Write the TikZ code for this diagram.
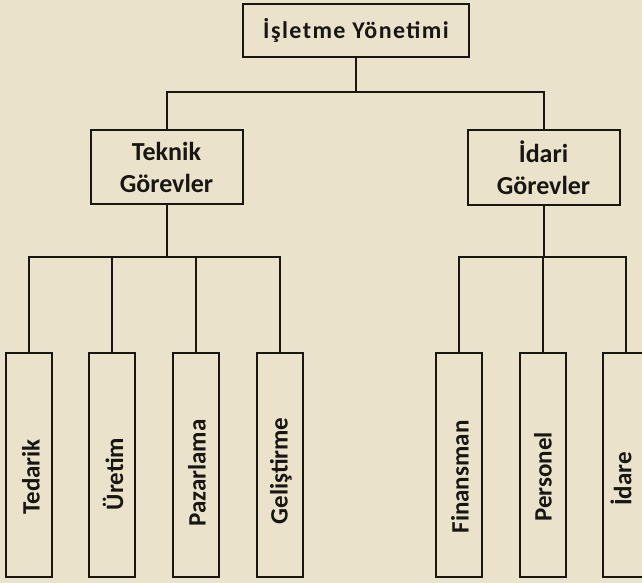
\documentclass[tikz,border=0pt]{standalone}
\usepackage{fontspec}
\setmainfont{Carlito}
\definecolor{paper}{RGB}{234,226,203}
\definecolor{ink}{RGB}{25,22,18}
\begin{document}
\begin{tikzpicture}[x=1pt,y=-1pt,
  line width=2pt, draw=ink,
  every node/.style={draw=ink, line width=2pt, rectangle, inner sep=0pt, text=ink, font=\bfseries},
  topbox/.style={minimum width=226pt, minimum height=53pt, font=\fontsize{24}{28}\selectfont\bfseries\addfontfeatures{LetterSpace=6}},
  midbox/.style={minimum width=152pt, minimum height=74pt, align=center, font=\fontsize{26}{32}\selectfont\bfseries},
  leafbox/.style={minimum width=46pt, minimum height=224pt},
  leaftext/.style={draw=none, rotate=90, font=\fontsize{25}{30}\selectfont\bfseries}
]
\fill[paper] (0,0) rectangle (642,583);
\useasboundingbox (0,0) rectangle (642,583);
\clip (0,0) rectangle (642,583);

\node[topbox] (top) at (356,30.5) {İşletme Yönetimi};
\node[midbox] (teknik) at (166.5,167) {Teknik\\Görevler};
\node[midbox] (idari) at (543.5,167.5) {İdari\\Görevler};

\node[leafbox] (tedarik) at (29,465) {};
\node[leafbox] (uretim) at (111.5,465) {};
\node[leafbox] (pazar) at (196,465) {};
\node[leafbox] (gelis) at (280,465) {};
\node[leafbox] (finans) at (459,465) {};
\node[leafbox] (personel) at (542.5,465) {};
\node[leafbox] (idare) at (626,465) {};

\node[leaftext] (t1) at (31,477) {Tedarik};
\node[leaftext] (t2) at (113,474) {Üretim};
\node[leaftext] (t3) at (197,473) {Pazarlama};
\node[leaftext] (t4) at (281,471) {Geliştirme};
\node[leaftext] (t5) at (460,477) {Finansman};
\node[leaftext] (t6) at (543,477) {Personel};
\node[leaftext] (t7) at (621,479) {İdare};

\coordinate (bus1) at (356,92);
\coordinate (tbus) at (166.5,257);
\coordinate (ibus) at (543.5,257);

\draw (top) -- (bus1);
\draw (teknik.north) |- (bus1) -| (idari.north);

\draw (teknik) -- (tbus);
\draw (tedarik.north) |- (tbus) -| (gelis.north);
\draw (uretim.north) -- (uretim.north |- tbus);
\draw (pazar.north) -- (pazar.north |- tbus);

\draw (idari) -- (ibus);
\draw (finans.north) |- (ibus) -| (idare.north);
\draw (personel.north) -- (personel.north |- ibus);
\end{tikzpicture}
\end{document}
